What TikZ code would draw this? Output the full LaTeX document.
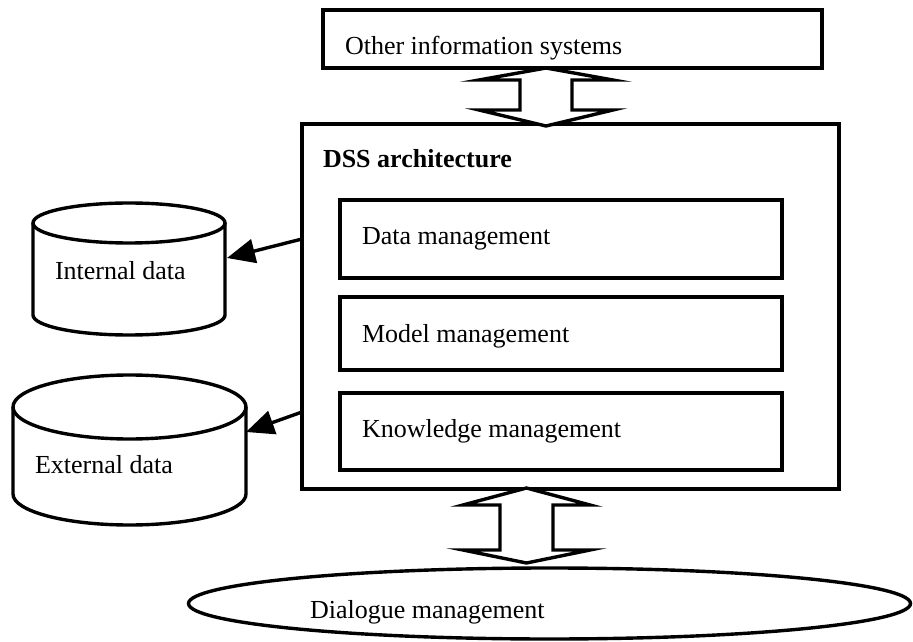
\documentclass[tikz,border=0pt]{standalone}
\usepackage{fontspec}
\setmainfont{Liberation Serif}
\usetikzlibrary{arrows.meta}
\begin{document}
\begin{tikzpicture}[x=1pt,y=1pt,
  every node/.style={inner sep=0pt, outer sep=0pt, font=\fontsize{26}{31}\selectfont},
  boxstyle/.style={draw, line width=3.4pt, rectangle, fill=white},
  txt/.style={anchor=base west},
  dblarrow/.style={draw, line width=3.4pt, fill=white, miter limit=25},
  cyl/.style={draw, line width=3.4pt, fill=white},
  conn/.style={line width=3.4pt, -{Triangle[length=28pt,width=24pt]}}]
\useasboundingbox (0,0) rectangle (913,641);
% top box
\node[boxstyle, minimum width=499pt, minimum height=58pt] (other) at (572.5,602) {};
\node[txt] (othert) at (345,586) {Other information systems};
% main box
\node[boxstyle, minimum width=537pt, minimum height=365pt] (dss) at (570.5,334.5) {};
\node[txt, font=\fontsize{26}{31}\selectfont\bfseries] (dsst) at (323,473) {DSS architecture};
% inner boxes
\node[boxstyle, minimum width=442pt, minimum height=78pt] (data) at (561,402) {};
\node[txt] (datat) at (362,396) {Data management};
\node[boxstyle, minimum width=442pt, minimum height=73pt] (model) at (561,307.5) {};
\node[txt] (modelt) at (362,299) {Model management};
\node[boxstyle, minimum width=442pt, minimum height=77pt] (know) at (561,209.5) {};
\node[txt] (knowt) at (362,204) {Knowledge management};
% dialogue ellipse
\draw[cyl] (549.5,37.5) ellipse [x radius=361pt, y radius=35.5pt];
\node[txt] (dialt) at (310,23) {Dialogue management};
% double arrows
\draw[dblarrow] (546,573) -- (613,561) -- (572,561) -- (572,531) -- (613,531)
  -- (546,515) -- (479,531) -- (520,531) -- (520,561) -- (479,561) -- cycle;
\draw[dblarrow] (526.5,153) -- (590,136) -- (553,136) -- (553,91) -- (590,91)
  -- (526.5,78) -- (463,91) -- (500,91) -- (500,136) -- (463,136) -- cycle;
% internal data cylinder
\draw[cyl] (33,418) -- (33,326) arc[start angle=180, end angle=360, x radius=96pt, y radius=20pt] -- (225,418);
\draw[cyl] (129,418) ellipse [x radius=96pt, y radius=20pt];
\node[txt] (intt) at (55,361) {Internal data};
% external data cylinder
\draw[cyl] (13,234) -- (13,147) arc[start angle=180, end angle=360, x radius=116.5pt, y radius=31pt] -- (246,234);
\draw[cyl] (129.5,234) ellipse [x radius=116.5pt, y radius=32pt];
\node[txt] (extt) at (35,168) {External data};
% connectors
\coordinate (intstart) at (302,402);
\coordinate (inttip) at (227,383);
\coordinate (extstart) at (302,229);
\coordinate (exttip) at (246,209);
\draw[conn] (intstart) -- (inttip);
\draw[conn] (extstart) -- (exttip);
\end{tikzpicture}
\end{document}
